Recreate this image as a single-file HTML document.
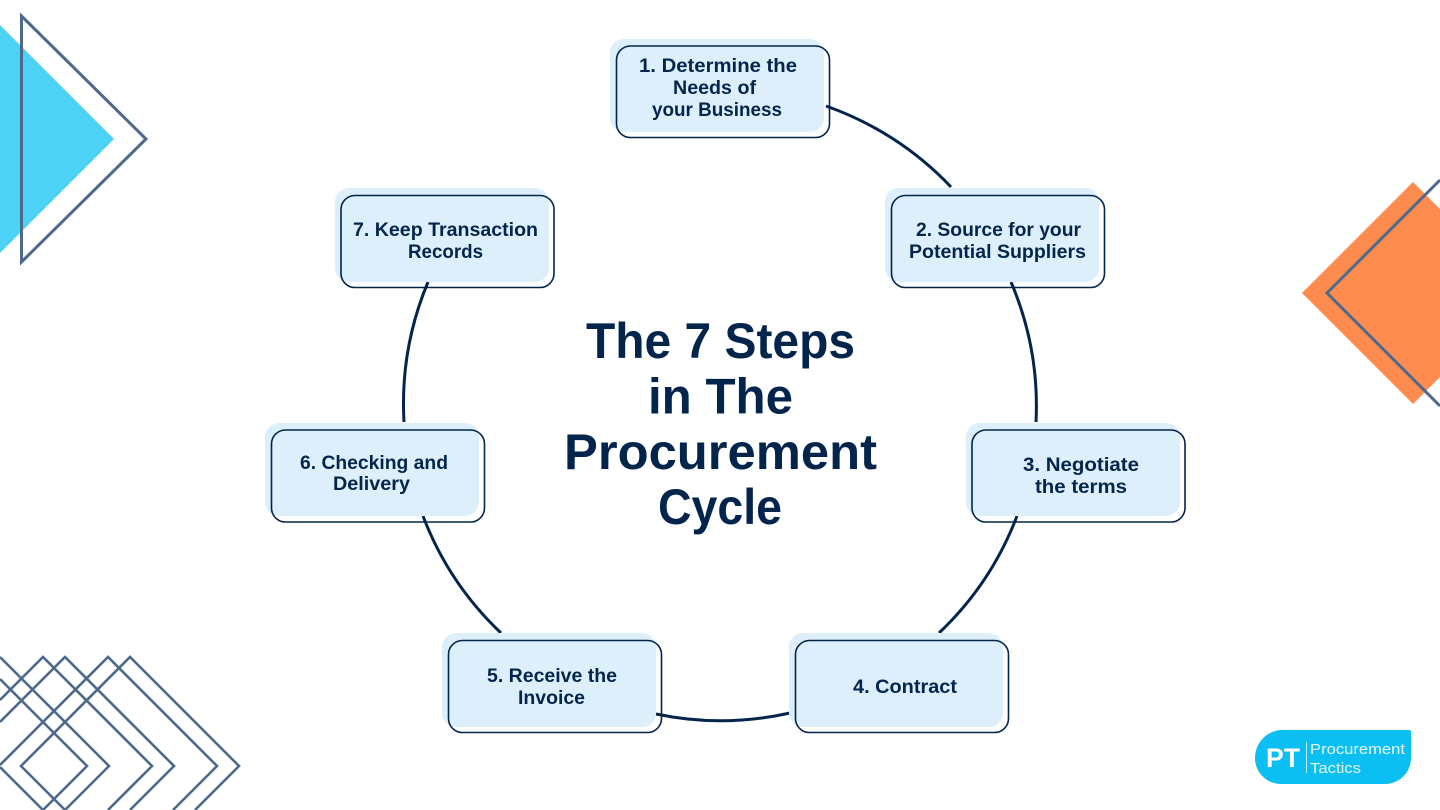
<!DOCTYPE html>
<html>
<head>
<meta charset="utf-8">
<style>
html,body{margin:0;padding:0;background:#fff;width:1440px;height:810px;overflow:hidden}
svg{display:block}
.b{font-family:"Liberation Sans",sans-serif;font-weight:700;font-size:19px;fill:#03254c}
.t{font-family:"Liberation Sans",sans-serif;font-weight:700;font-size:50px;fill:#03254c}
.w{font-family:"Liberation Sans",sans-serif;fill:#fff}
</style>
</head>
<body>
<svg width="1440" height="810" viewBox="0 0 1440 810" xmlns="http://www.w3.org/2000/svg">
<rect width="1440" height="810" fill="#fff"/>

<!-- top-left triangles -->
<polygon points="0,25 114,139 0,253" fill="#4dd2f6"/>
<polygon points="21.5,16 146,139 21.5,262" fill="none" stroke="#4d6a8c" stroke-width="3"/>

<!-- right diamond -->
<polygon points="1302,293 1413,182 1440,209 1440,377 1413,404" fill="#ff8c4f"/>
<polyline points="1440,180 1327,293 1440,406" fill="none" stroke="#4d6a8c" stroke-width="3"/>

<!-- bottom-left diamonds -->
<g fill="none" stroke="#4d6a8c" stroke-width="2.6">
<polyline points="65,810 21,766 130,657 239,766 195,810"/>
<polyline points="0,765 108,657 217,766 173,810"/>
<polyline points="0,767 43,810"/>
<polyline points="0,722 65,657 174,766 130,810"/>
<polyline points="0,700 43,657 152,766 108,810"/>
<polyline points="0,657 109,766 65,810"/>
<polyline points="0,679 87,766 43,810"/>
</g>

<!-- connectors -->
<g fill="none" stroke="#03254c" stroke-width="3">
<path d="M826,106 A316,316 0 0 1 951,187"/>
<path d="M1011,282 A316,316 0 0 1 1036,422"/>
<path d="M1017,516 A316,316 0 0 1 939,633"/>
<path d="M790,713 A316,316 0 0 1 656,714"/>
<path d="M501,633 A316,316 0 0 1 423,516"/>
<path d="M404,422 A316,316 0 0 1 428,282"/>
</g>

<!-- boxes -->
<g fill="#ddeffa">
<rect x="610" y="39" width="214" height="93" rx="14"/>
<rect x="885" y="188" width="214" height="94" rx="14"/>
<rect x="966" y="423" width="214" height="93" rx="14"/>
<rect x="789" y="633" width="214" height="94" rx="14"/>
<rect x="442" y="633" width="214" height="94" rx="14"/>
<rect x="265" y="423" width="214" height="93" rx="14"/>
<rect x="335" y="188" width="214" height="94" rx="14"/>
</g>
<g fill="none" stroke="#03254c" stroke-width="1.6">
<rect x="616.5" y="46" width="213" height="91.5" rx="14"/>
<rect x="891.5" y="195.5" width="213" height="92" rx="14"/>
<rect x="972" y="430" width="213" height="92" rx="14"/>
<rect x="795.5" y="640.5" width="213" height="92" rx="14"/>
<rect x="448.5" y="640.5" width="213" height="92" rx="14"/>
<rect x="271.5" y="430" width="213" height="92" rx="14"/>
<rect x="341" y="195.5" width="213" height="92" rx="14"/>
</g>

<!-- box labels -->
<text class="b" x="639" y="72" textLength="158" lengthAdjust="spacingAndGlyphs">1. Determine the</text>
<text class="b" x="673" y="94" textLength="83" lengthAdjust="spacingAndGlyphs">Needs of</text>
<text class="b" x="652" y="116" textLength="130" lengthAdjust="spacingAndGlyphs">your Business</text>

<text class="b" x="916" y="236" textLength="165" lengthAdjust="spacingAndGlyphs">2. Source for your</text>
<text class="b" x="909" y="258" textLength="177" lengthAdjust="spacingAndGlyphs">Potential Suppliers</text>

<text class="b" x="1023" y="471" textLength="116" lengthAdjust="spacingAndGlyphs">3. Negotiate</text>
<text class="b" x="1035" y="493" textLength="92" lengthAdjust="spacingAndGlyphs">the terms</text>

<text class="b" x="853" y="693" textLength="104" lengthAdjust="spacingAndGlyphs">4. Contract</text>

<text class="b" x="487" y="682" textLength="130" lengthAdjust="spacingAndGlyphs">5. Receive the</text>
<text class="b" x="518" y="704" textLength="67" lengthAdjust="spacingAndGlyphs">Invoice</text>

<text class="b" x="300" y="469" textLength="148" lengthAdjust="spacingAndGlyphs">6. Checking and</text>
<text class="b" x="333" y="490" textLength="77" lengthAdjust="spacingAndGlyphs">Delivery</text>

<text class="b" x="353" y="236" textLength="185" lengthAdjust="spacingAndGlyphs">7. Keep Transaction</text>
<text class="b" x="408" y="258" textLength="75" lengthAdjust="spacingAndGlyphs">Records</text>

<!-- title -->
<text class="t" x="586" y="358" textLength="269" lengthAdjust="spacingAndGlyphs">The 7 Steps</text>
<text class="t" x="648" y="413.5" textLength="145" lengthAdjust="spacingAndGlyphs">in The</text>
<text class="t" x="564" y="469" textLength="313" lengthAdjust="spacingAndGlyphs">Procurement</text>
<text class="t" x="658" y="524" textLength="124" lengthAdjust="spacingAndGlyphs">Cycle</text>

<!-- logo -->
<path d="M1281,730 H1409 Q1411,730 1411,732 V758 A26,26 0 0 1 1385,784 H1281 A26,26 0 0 1 1255,758 A28,28 0 0 1 1281,730 Z" fill="#0cbff2"/>
<text class="w" x="1266" y="767" font-size="27" font-weight="700" textLength="34" lengthAdjust="spacingAndGlyphs">PT</text>
<rect x="1306" y="742" width="1" height="31" fill="#fff" opacity=".7"/>
<text class="w" x="1310" y="754" font-size="15" opacity=".9" textLength="95" lengthAdjust="spacingAndGlyphs">Procurement</text>
<text class="w" x="1310" y="773" font-size="15" opacity=".9" textLength="51" lengthAdjust="spacingAndGlyphs">Tactics</text>
</svg>
</body>
</html>
